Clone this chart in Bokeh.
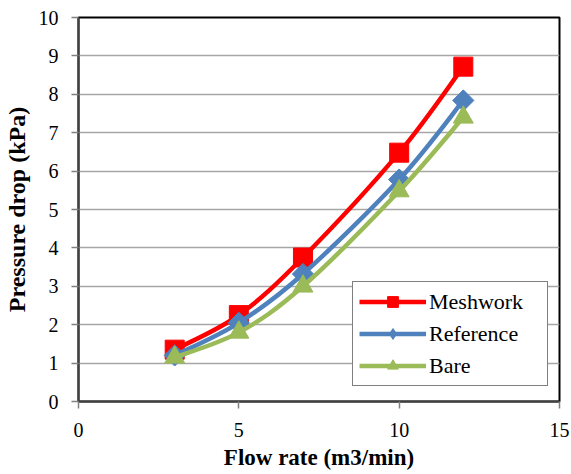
import numpy as np
from bokeh.plotting import figure
from bokeh.models import Range1d, Legend, LegendItem, FixedTicker
from bokeh.embed import file_html
from bokeh.resources import INLINE

# ---- data ----
flow_rate = [3, 5, 7, 10, 12]
meshwork = [1.35, 2.25, 3.75, 6.48, 8.72]
reference = [1.2, 2.05, 3.32, 5.78, 7.84]
bare = [1.15, 1.8, 3.0, 5.48, 7.4]
series_names = ["Meshwork", "Reference", "Bare"]
x_ticks = [0, 5, 10, 15]
y_ticks = list(range(0, 11))

SERIF = "'Liberation Serif', 'Times New Roman', serif"

p = figure(width=571, height=474, output_backend="svg", toolbar_location=None,
           x_range=Range1d(0, 15), y_range=Range1d(0, 10),
           min_border_left=78, min_border_right=12, min_border_top=17, min_border_bottom=73)
p.background_fill_color = "white"
p.border_fill_color = "white"
p.outline_line_color = "black"
p.outline_line_width = 2

p.xgrid.grid_line_color = None
p.ygrid.grid_line_color = "#a6a6a6"
p.ygrid.grid_line_width = 1.5

for ax in (p.xaxis[0], p.yaxis[0]):
    ax.axis_line_color = "#404040"
    ax.axis_line_width = 2
    ax.major_tick_line_color = "#808080"
    ax.major_tick_line_width = 1.5
    ax.major_tick_out = 7
    ax.major_tick_in = 0
    ax.minor_tick_line_color = None
    ax.major_label_text_font = SERIF
    ax.major_label_text_font_size = "20px"
    ax.major_label_text_color = "black"
    ax.axis_label_text_font = SERIF
    ax.axis_label_text_font_style = "bold"
    ax.axis_label_text_font_size = "23px"
    ax.axis_label_text_color = "black"

p.yaxis.axis_label_text_font_size = "24px"
p.xaxis.ticker = FixedTicker(ticks=x_ticks)
p.yaxis.ticker = FixedTicker(ticks=y_ticks)
p.xaxis.axis_label = "Flow rate (m3/min)"
p.yaxis.axis_label = "Pressure drop (kPa)"
p.xaxis.major_label_standoff = 14
p.yaxis.major_label_standoff = 13
p.xaxis.axis_label_standoff = 5
p.yaxis.axis_label_standoff = 6


def smooth_segments(xs, ys, t=1/6):
    xs = np.asarray(xs, float)
    ys = np.asarray(ys, float)
    n = len(xs)
    out = {k: [] for k in ("x0", "y0", "x1", "y1", "cx0", "cy0", "cx1", "cy1")}
    for i in range(n - 1):
        ip = max(i - 1, 0)
        inx = min(i + 2, n - 1)
        out["x0"].append(xs[i]); out["y0"].append(ys[i])
        out["x1"].append(xs[i + 1]); out["y1"].append(ys[i + 1])
        out["cx0"].append(xs[i] + (xs[i + 1] - xs[ip]) * t)
        out["cy0"].append(ys[i] + (ys[i + 1] - ys[ip]) * t)
        out["cx1"].append(xs[i + 1] - (xs[inx] - xs[i]) * t)
        out["cy1"].append(ys[i + 1] - (ys[inx] - ys[i]) * t)
    return out


# (colour, marker, size, angle, legend marker, legend size)
styles = [
    ("#FF0000", "square", 19, 0.0, "square", 12),
    ("#4F81BD", "square", 15, np.pi / 4, "diamond", 15),
    ("#9BBB59", "triangle", 20, 0.0, "triangle", 13),
]
items = []
for name, ys, (color, marker, size, angle, lmarker, lsize) in zip(series_names, [meshwork, reference, bare], styles):
    seg = smooth_segments(flow_rate, ys)
    p.bezier(line_color=color, line_width=4.5, **seg)
    p.scatter(flow_rate, ys, marker=marker, size=size, angle=angle,
              fill_color=color, line_color=color)
    # legend proxy renderers (NaN data: nothing drawn in the plot)
    lg_line = p.line([np.nan, np.nan], [np.nan, np.nan], line_color=color, line_width=4.5)
    lg_sc = p.scatter([np.nan], [np.nan], marker=lmarker, size=lsize,
                      fill_color=color, line_color=color)
    items.append(LegendItem(label=name, renderers=[lg_line, lg_sc]))

legend = Legend(items=items, location=(274, 15), orientation="vertical",
                label_text_font=SERIF, label_text_font_size="22px", label_text_color="black",
                glyph_width=67, glyph_height=27, spacing=5, padding=6, margin=0,
                label_standoff=3, label_width=112,
                border_line_color="black", border_line_width=1.2,
                background_fill_color="white", background_fill_alpha=1)
p.add_layout(legend, "center")

open("out.html", "w").write(file_html(p, INLINE))
